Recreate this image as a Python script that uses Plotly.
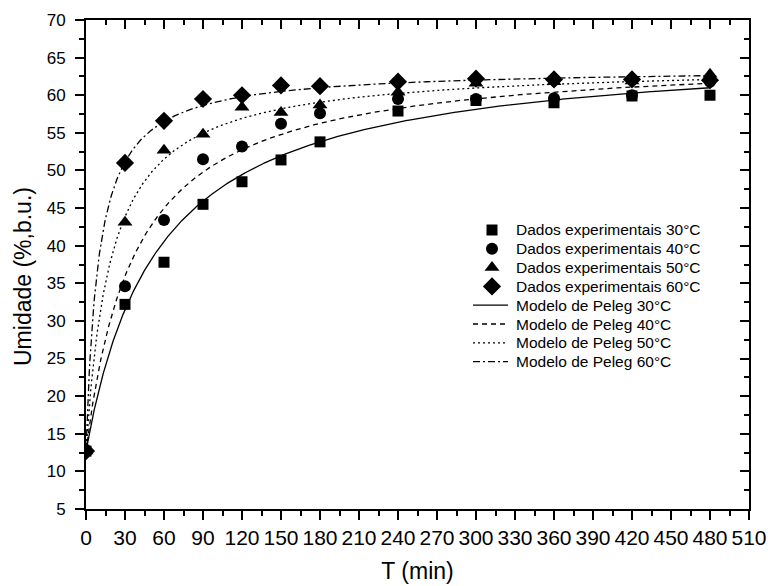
import numpy as np
import plotly.graph_objects as go

# Experimental moisture content (%, w.b.) over soaking time (min)
t_exp = [0, 30, 60, 90, 120, 150, 180, 240, 300, 360, 420, 480]
m_30 = [12.7, 32.2, 37.8, 45.5, 48.5, 51.4, 53.8, 57.9, 59.3, 59.0, 59.9, 60.0]
m_40 = [12.7, 34.6, 43.4, 51.5, 53.2, 56.2, 57.6, 59.5, 59.5, 59.6, 60.0, 61.8]
m_50 = [12.7, 43.1, 52.7, 54.8, 58.4, 57.7, 58.7, 60.4, 61.6, 61.8, 61.9, 62.8]
m_60 = [12.7, 51.0, 56.6, 59.5, 60.0, 61.3, 61.2, 61.8, 62.2, 62.1, 62.1, 62.0]

# Peleg model parameters: M(t) = M0 + t / (k1 + k2 t)
m0 = 12.7
k1 = {"30": 1.04, "40": 0.721, "50": 0.379, "60": 0.191}
k2 = {"30": 0.01854, "40": 0.01895, "50": 0.019455, "60": 0.01964}

labels_exp = ["Dados experimentais 30°C", "Dados experimentais 40°C",
              "Dados experimentais 50°C", "Dados experimentais 60°C"]
labels_mod = ["Modelo de Peleg 30°C", "Modelo de Peleg 40°C",
              "Modelo de Peleg 50°C", "Modelo de Peleg 60°C"]

x_ticks = list(range(0, 511, 30))
y_ticks = list(range(5, 71, 5))

symbols = ["square", "circle", "triangle-up", "diamond"]
sizes = [11, 12, 13, 14]
dashes = ["solid", "5px,4px", "2px,3px", "7px,3px,2px,3px"]

# plot-area geometry in pixels
W, H = 768, 586
ML, MR, MT, MB = 86, 19, 20, 77
PW, PH = W - ML - MR, H - MT - MB


def px_x(p):
    return (p - ML) / PW


def px_y(p):
    return (H - MB - p) / PH


fig = go.Figure()

t_fit = np.linspace(0, 480, 961)
for temp, lab, dash in zip(["30", "40", "50", "60"], labels_mod, dashes):
    m_fit = m0 + t_fit / (k1[temp] + k2[temp] * t_fit)
    fig.add_trace(go.Scatter(
        x=t_fit, y=m_fit, mode="lines", name=lab, showlegend=False,
        line=dict(color="black", width=1.3, dash=dash),
    ))

for ys, lab, sym, sz in zip([m_30, m_40, m_50, m_60], labels_exp, symbols, sizes):
    fig.add_trace(go.Scatter(
        x=t_exp, y=ys, mode="markers", name=lab, showlegend=False,
        marker=dict(symbol=sym, size=sz, color="black", line=dict(width=0)),
    ))

# Legend drawn in paper space on an auxiliary overlay axis pair
row0, row_step = 230, 18.8
sym_x, line_x0, line_x1, text_x = 492, 473, 508, 514
legend_font = dict(family="Liberation Sans, Arial", size=15.5, color="black")
annotations = []
for i, (lab, sym, sz) in enumerate(zip(labels_exp, symbols, sizes)):
    yy = px_y(row0 + i * row_step)
    fig.add_trace(go.Scatter(
        x=[px_x(sym_x)], y=[yy], xaxis="x3", yaxis="y3", mode="markers",
        marker=dict(symbol=sym, size=sz, color="black", line=dict(width=0)),
        showlegend=False, hoverinfo="skip", cliponaxis=False,
    ))
    annotations.append(dict(x=px_x(text_x), y=yy, xref="paper", yref="paper",
                            text=lab, showarrow=False, xanchor="left",
                            yanchor="middle", font=legend_font))
for j, (lab, dash) in enumerate(zip(labels_mod, dashes)):
    yy = px_y(row0 + (j + 4) * row_step)
    fig.add_trace(go.Scatter(
        x=[px_x(line_x0), px_x(line_x1)], y=[yy, yy], xaxis="x3", yaxis="y3",
        mode="lines", line=dict(color="black", width=1.3, dash=dash),
        showlegend=False, hoverinfo="skip", cliponaxis=False,
    ))
    annotations.append(dict(x=px_x(text_x), y=yy, xref="paper", yref="paper",
                            text=lab, showarrow=False, xanchor="left",
                            yanchor="middle", font=legend_font))

# y-axis title
annotations.append(dict(x=0, y=px_y(277), xref="paper", yref="paper",
                        xshift=-(ML - 23), text="Umidade (%,b.u.)", textangle=-90,
                        showarrow=False, xanchor="center", yanchor="middle",
                        font=dict(family="Liberation Sans, Arial", size=23, color="black")))

# Invisible trace to activate the mirrored top/right axes
fig.add_trace(go.Scatter(x=[None], y=[None], xaxis="x2", yaxis="y2",
                         showlegend=False, hoverinfo="skip"))

x_tick_font = dict(family="Liberation Sans Narrow, Arial Narrow, Arial", size=21, color="black")
y_tick_font = dict(family="Liberation Sans, Arial", size=17, color="black")
title_font = dict(family="Liberation Sans, Arial", size=23, color="black")

axis_common = dict(showline=True, linecolor="black", linewidth=2, automargin=False,
                   showgrid=False, zeroline=False, tickcolor="black", tickwidth=1.5)

fig.update_layout(
    width=W, height=H,
    margin=dict(l=ML, r=MR, t=MT, b=MB, autoexpand=False),
    paper_bgcolor="white", plot_bgcolor="white",
    showlegend=False,
    annotations=annotations,
    xaxis=dict(
        range=[0, 510], tickvals=x_ticks, ticktext=[str(v) for v in x_ticks],
        ticks="outside", ticklen=9, ticklabelstandoff=0,
        minor=dict(dtick=15, tick0=0, ticks="outside", ticklen=5, tickwidth=1.5, tickcolor="black"),
        tickfont=x_tick_font,
        title=dict(text="T (min)", font=title_font, standoff=15),
        **axis_common,
    ),
    yaxis=dict(
        range=[5, 70], tickvals=y_ticks, ticktext=[str(v) for v in y_ticks],
        ticks="outside", ticklen=9, ticklabelstandoff=6,
        minor=dict(dtick=2.5, tick0=5, ticks="outside", ticklen=5, tickwidth=1.5, tickcolor="black"),
        tickfont=y_tick_font,
        **axis_common,
    ),
    xaxis2=dict(
        overlaying="x", side="top", range=[0, 510], tickvals=x_ticks,
        showticklabels=False, ticks="inside", ticklen=9,
        minor=dict(dtick=15, tick0=0, ticks="inside", ticklen=5, tickwidth=1.5, tickcolor="black"),
        **axis_common,
    ),
    yaxis2=dict(
        overlaying="y", side="right", range=[5, 70], tickvals=y_ticks,
        showticklabels=False, ticks="inside", ticklen=9,
        minor=dict(dtick=2.5, tick0=5, ticks="inside", ticklen=5, tickwidth=1.5, tickcolor="black"),
        **axis_common,
    ),
    xaxis3=dict(overlaying="x", range=[0, 1], visible=False, fixedrange=True, automargin=False),
    yaxis3=dict(overlaying="y", range=[0, 1], visible=False, fixedrange=True, automargin=False),
)

fig.write_html("out.html")
